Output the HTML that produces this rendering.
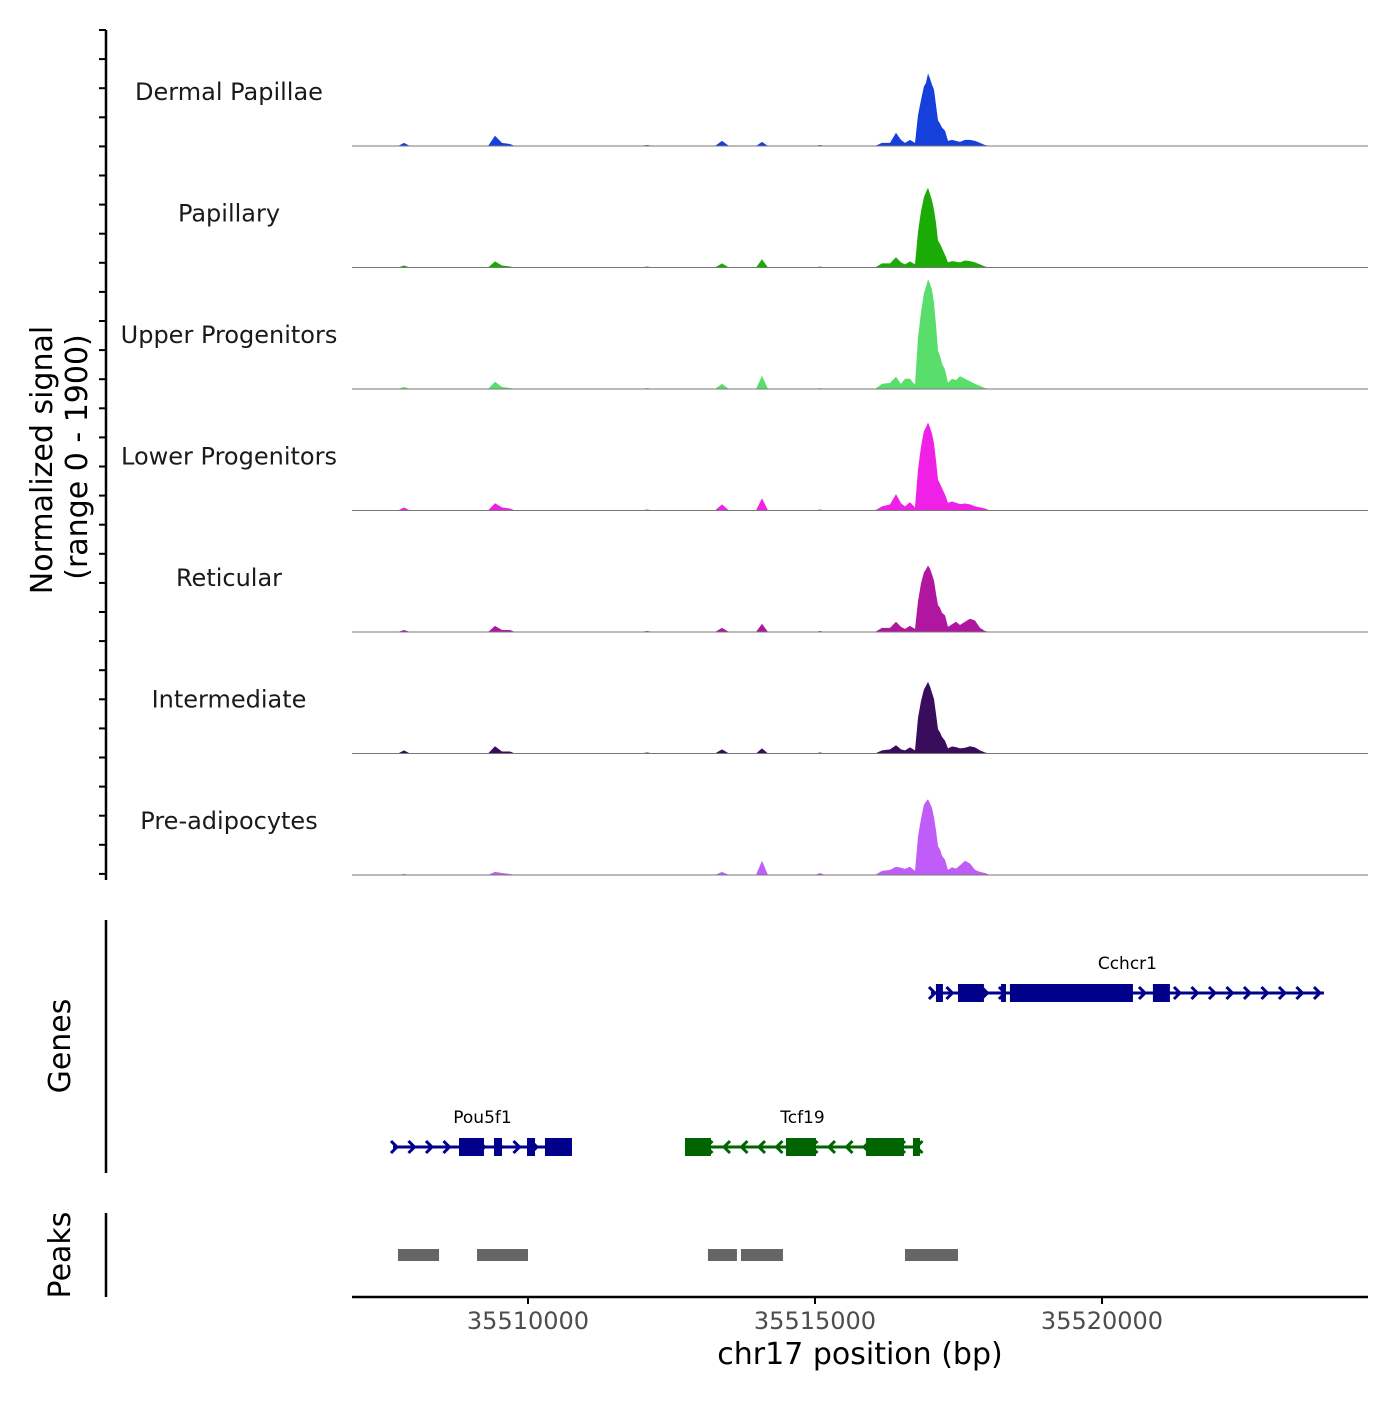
<!DOCTYPE html>
<html><head><meta charset="utf-8"><style>
body{margin:0;background:#fff}
svg text{font-family:"DejaVu Sans","Liberation Sans",sans-serif}
</style></head><body>
<svg id="chart" width="1400" height="1400" viewBox="0 0 1400 1400" xmlns="http://www.w3.org/2000/svg">
<g id="tracks"></g>
<g id="genes"></g>
<g id="peaks"></g>
<g id="axes"></g>
</svg>
<script>
const positions=[35506934,35507735,35507840,35507944,35509303,35509425,35509547,35509686,35509773,35511951,35512073,35512195,35513257,35513380,35513501,35513972,35514076,35514181,35514999,35515087,35515174,35516045,35516167,35516306,35516411,35516498,35516568,35516655,35516742,35516794,35516846,35516898,35516933,35516968,35517003,35517038,35517073,35517108,35517142,35517177,35517212,35517265,35517317,35517387,35517456,35517526,35517613,35517700,35517787,35517874,35517961,35518048,35518919,35524634];
const groups=["Dermal Papillae","Papillary","Upper Progenitors","Lower Progenitors","Reticular","Intermediate","Pre-adipocytes"];
const colors=["#1540dc","#1aab06","#5ade6b","#f020e6","#b0169f","#3a0c5c","#c05cf8"];
const sigDP=[0,0,48,0,0,160,48,32,0,0,16,0,0,80,0,0,64,0,0,16,0,0,48,48,208,96,48,96,48,480,720,930,990,1136,1056,960,880,640,400,350,290,240,80,96,80,64,96,96,80,48,16,0,0,0];
const sigPap=[0,0,32,0,0,96,32,16,0,0,16,0,0,64,0,0,128,0,0,16,0,0,64,64,160,80,48,96,48,560,880,1100,1180,1248,1150,1050,900,700,420,370,300,200,80,100,90,80,110,100,80,48,16,0,0,0];
const sigUp=[0,0,32,0,0,112,32,16,0,0,16,0,0,80,0,0,208,0,0,16,0,0,80,96,192,80,160,160,64,800,1200,1500,1600,1712,1650,1550,1350,1000,600,520,400,300,100,160,140,200,160,120,80,48,16,0,0,0];
const sigLow=[0,0,48,0,0,112,48,32,0,0,16,0,0,96,0,0,192,0,0,16,0,0,64,96,256,112,64,128,48,640,1000,1240,1300,1376,1300,1200,1050,780,480,420,350,250,120,140,120,100,110,96,64,48,32,0,0,0];
const sigRet=[0,0,32,0,0,96,32,32,0,0,16,0,0,64,0,0,128,0,0,16,0,0,64,64,160,80,48,96,48,480,760,930,980,1040,990,900,800,600,420,380,300,260,80,120,160,110,160,208,180,64,16,0,0,0];
const sigInt=[0,0,48,0,0,112,32,32,0,0,16,0,0,64,0,0,80,0,0,16,0,0,48,64,128,64,48,96,48,560,820,1000,1060,1120,1050,950,850,620,380,330,260,200,80,110,100,80,90,112,96,48,16,0,0,0];
const sigPre=[0,0,16,0,0,48,32,16,0,0,0,0,0,48,0,0,224,0,0,32,0,0,64,80,128,112,96,128,64,600,880,1100,1150,1184,1120,1050,900,700,450,400,300,240,80,120,100,150,224,180,80,48,32,0,0,0];
const signals=[sigDP,sigPap,sigUp,sigLow,sigRet,sigInt,sigPre];
const yMax=1900;
const xTicks=[35510000,35515000,35520000];
const peakStarts=[35507735,35509112,35513135,35513710,35516568];
const peakEnds=[35508450,35510000,35513640,35514442,35517491];
const geneNames=["Pou5f1","Tcf19","Cchcr1"];
const geneStarts=[35507648,35512735,35517020];
const geneEnds=[35510766,35516829,35523866];
const geneStrands=["+","-","+"];
const exonStarts=[[35508798,35509408,35509983,35510296],[35512735,35514494,35515888,35516707],[35517107,35517491,35518240,35518396,35520887]];
const exonEnds=[[35509233,35509547,35510122,35510766],[35513188,35515017,35516550,35516829],[35517229,35517943,35518327,35520539,35521183]];

const NS="http://www.w3.org/2000/svg";
const X0=352,X1=1368,B0=35506934,B1=35524634;
const x=b=>X0+(b-B0)/(B1-B0)*(X1-X0);
const TH=121.5;
function mk(t,a,p){const e=document.createElementNS(NS,t);for(const k in a)e.setAttribute(k,a[k]);if(p)p.appendChild(e);return e;}
const tracks=document.getElementById('tracks');
groups.forEach((g,i)=>{
  const base=146+i*TH;
  const y=v=>base-v/yMax*TH;
  let d=`M${x(positions[0])},${base}`;
  signals[i].forEach((v,j)=>{d+=` L${x(positions[j]).toFixed(1)},${y(v).toFixed(1)}`;});
  d+=` L${x(positions[positions.length-1])},${base} Z`;
  const p=mk('path',{d:d,fill:colors[i]},tracks);
  
  
  const l=mk('line',{x1:X0,x2:X1,y1:base,y2:base,stroke:'#777','stroke-width':1},tracks);
  
  
  const t=mk('text',{x:229,y:base-46,'text-anchor':'middle','font-size':24,fill:'#1a1a1a'},tracks);
  t.textContent=g;
  
  
});
const genes=document.getElementById('genes');
const geneY=[1147,1147,993];
geneNames.forEach((n,i)=>{
  const col=geneStrands[i]==='+'?'#00008b':'#006400';
  const gy=geneY[i];
  const g=mk('g',{},genes);
  
  
  mk('line',{x1:x(geneStarts[i]),x2:x(geneEnds[i]),y1:gy,y2:gy,stroke:col,'stroke-width':3},g);
  const xs=x(geneStarts[i]),xe=x(geneEnds[i]);
  for(let ax=xs+4;ax<=xe;ax+=17.5){
    const s=geneStrands[i]==='+'?-1:1;
    mk('polyline',{points:`${ax+s*6},${gy-6} ${ax},${gy} ${ax+s*6},${gy+6}`,fill:'none',stroke:col,'stroke-width':3},g);
  }
  exonStarts[i].forEach((s,j)=>{
    mk('rect',{x:x(s),y:gy-9,width:x(exonEnds[i][j])-x(s),height:18,fill:col},g);
  });
  const t=mk('text',{x:(xs+xe)/2,y:gy-24,'text-anchor':'middle','font-size':17,fill:'#000'},g);
  t.textContent=n;
  
  
});
const peaks=document.getElementById('peaks');
peakStarts.forEach((s,i)=>{
  const r=mk('rect',{x:x(s),y:1249,width:x(peakEnds[i])-x(s),height:12,fill:'#666'},peaks);
  
  
});
const axes=document.getElementById('axes');
mk('line',{x1:106,x2:106,y1:30,y2:880,stroke:'#000','stroke-width':2.5},axes);
for(let ty=30+(146-30)%29;ty<=880;ty+=29.1){mk('line',{x1:99,x2:106,y1:ty,y2:ty,stroke:'#000','stroke-width':2},axes);}
mk('line',{x1:106,x2:106,y1:920,y2:1173,stroke:'#000','stroke-width':2.5},axes);
mk('line',{x1:106,x2:106,y1:1213,y2:1297,stroke:'#000','stroke-width':2.5},axes);
mk('line',{x1:352,x2:1368,y1:1297,y2:1297,stroke:'#000','stroke-width':2.5},axes);
xTicks.forEach(v=>{
  mk('line',{x1:x(v),x2:x(v),y1:1297,y2:1304,stroke:'#000','stroke-width':2},axes);
  const t=mk('text',{x:x(v),y:1329,'text-anchor':'middle','font-size':24,fill:'#4d4d4d'},axes);
  t.textContent=v;
  
  
});
const xt=mk('text',{x:860,y:1364,'text-anchor':'middle','font-size':30,fill:'#000'},axes);
xt.textContent='chr17 position (bp)';


const yt=mk('text',{transform:'translate(52,460) rotate(-90)','text-anchor':'middle','font-size':30,fill:'#000'},axes);
yt.textContent='Normalized signal';


const yt2=mk('text',{transform:'translate(87,457) rotate(-90)','text-anchor':'middle','font-size':30,fill:'#000'},axes);
yt2.textContent='(range 0 - 1900)';


const gt=mk('text',{transform:'translate(70,1046) rotate(-90)','text-anchor':'middle','font-size':30,fill:'#000'},axes);
gt.textContent='Genes';


const pt=mk('text',{transform:'translate(70,1255) rotate(-90)','text-anchor':'middle','font-size':30,fill:'#000'},axes);
pt.textContent='Peaks';


</script>
</body></html>
